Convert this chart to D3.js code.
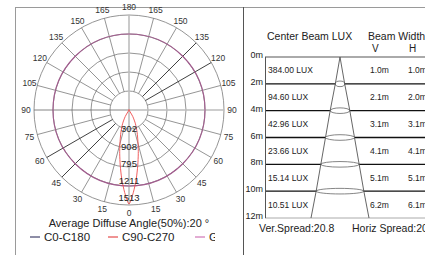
<!DOCTYPE html>
<html>
<head>
<meta charset="utf-8">
<script src="https://cdn.jsdelivr.net/npm/d3@7"></script>
<style>
  html, body { margin: 0; padding: 0; background: #fff; }
  svg { display: block; font-family: "Liberation Sans", Arial, sans-serif; }
</style>
</head>
<body>
<div id="chart"></div>
<script>
// polar grid: angle labels (degrees from the bottom) and ring values
var angleTicks = [0, 15, 30, 45, 60, 75, 90, 105, 120, 135, 150, 165, 180];
var ringValues = [302, 908, 795, 1211, 1513];

// C90-C270 curve, relative intensity (% of outer ring) by angle
var c90Angles = [-40, -30, -25, -20, -15, -12, -9, -6, -3, 0, 3, 6, 9, 12, 15, 20, 25, 30, 40];
var c90Values = [0, 8, 16, 25, 37, 47, 59, 73, 87, 99, 87, 73, 59, 47, 37, 25, 16, 8, 0];

// G0 curve (constant ring), % of outer ring
var g0Value = 80;

var legendNames = ["C0-C180", "C90-C270", "G0"];
var legendColors = ["#1c1c4e", "#e02828", "#c65aa8"];

// beam table
var depthTicks = [0, 2, 4, 6, 8, 10, 12];
var luxValues = [384.00, 94.60, 42.96, 23.66, 15.14, 10.51];
var widthV = [1.0, 2.1, 3.1, 4.1, 5.1, 6.2];
var widthH = [1.0, 2.0, 3.1, 4.1, 5.1, 6.1];
var verSpread = "20.8";
var horSpread = "20.8";

var W = 425, H = 255;

var svg = d3.select("#chart").append("svg")
    .attr("width", W)
    .attr("height", H);

svg.append("rect").attr("width", W).attr("height", H).attr("fill", "#fff");

// legend is clipped to the left panel
svg.append("clipPath").attr("id", "leftClip")
  .append("rect").attr("x", 0).attr("y", 0).attr("width", 215).attr("height", H);

// panel frame
svg.append("line").attr("x1", 15).attr("y1", 7.5).attr("x2", W).attr("y2", 7.5)
    .attr("stroke", "#9a9a9a").attr("stroke-width", 1);
svg.append("line").attr("x1", 15.5).attr("y1", 7).attr("x2", 15.5).attr("y2", H)
    .attr("stroke", "#9a9a9a").attr("stroke-width", 1);
svg.append("line").attr("x1", 243.5).attr("y1", 7).attr("x2", 243.5).attr("y2", H)
    .attr("stroke", "#555").attr("stroke-width", 1);

///////////////////////////////////////////////
// polar diagram
///////////////////////////////////////////////
var cx = 129, cy = 110;
var ring = d3.scaleLinear().domain([0, ringValues.length]).range([0, 95]);
var pct = d3.scaleLinear().domain([0, 100]).range([0, ring(ringValues.length)]);
var ringLabelY = d3.scaleLinear().domain([1, ringValues.length]).range([cy + 19, cy + 88]);
var rad = function(a) { return a * Math.PI / 180; };
var R0 = ring(1), R1 = ring(ringValues.length);

var polar = svg.append("g");

// circles
polar.selectAll(".ring")
    .data(ringValues)
  .enter().append("circle")
    .attr("class", "ring")
    .attr("cx", cx).attr("cy", cy)
    .attr("r", function(d, i) { return ring(i + 1); })
    .attr("fill", "none")
    .attr("stroke", "#7a7a7a")
    .attr("stroke-width", 0.8);

// spokes (both sides), some drawn darker
var darkRight = [120, 135], darkLeft = [45, 60];
var spokes = [];
angleTicks.forEach(function(a) {
  if (a === 0 || a === 90 || a === 180) return;
  spokes.push({ a: a, s: 1, dark: darkRight.indexOf(a) >= 0 });
  spokes.push({ a: a, s: -1, dark: darkLeft.indexOf(a) >= 0 });
});

polar.selectAll(".spoke")
    .data(spokes)
  .enter().append("line")
    .attr("class", "spoke")
    .attr("x1", function(d) { return cx + d.s * R0 * Math.sin(rad(d.a)); })
    .attr("y1", function(d) { return cy + R0 * Math.cos(rad(d.a)); })
    .attr("x2", function(d) { return cx + d.s * R1 * Math.sin(rad(d.a)); })
    .attr("y2", function(d) { return cy + R1 * Math.cos(rad(d.a)); })
    .attr("stroke", function(d) { return d.dark ? "#2a2a2a" : "#7a7a7a"; })
    .attr("stroke-width", function(d) { return d.dark ? 0.9 : 0.8; });

// horizontal and vertical axes
polar.append("line").attr("x1", cx - R1).attr("y1", cy).attr("x2", cx).attr("y2", cy)
    .attr("stroke", "#666").attr("stroke-width", 0.8);
polar.append("line").attr("x1", cx).attr("y1", cy).attr("x2", cx + R1).attr("y2", cy)
    .attr("stroke", "#bdbdbd").attr("stroke-width", 1.6);
polar.append("line").attr("x1", cx).attr("y1", cy - R1).attr("x2", cx).attr("y2", cy + R1)
    .attr("stroke", "#bdbdbd").attr("stroke-width", 1.6);

// G0 ring
polar.append("circle")
    .attr("cx", cx).attr("cy", cy)
    .attr("r", pct(g0Value))
    .attr("fill", "none")
    .attr("stroke", "#a25c8e")
    .attr("stroke-width", 1.1);

// C90-C270 curve
var c90 = c90Angles.map(function(a, i) { return { a: a, v: c90Values[i] }; });
var radial = d3.lineRadial()
    .angle(function(d) { return Math.PI - rad(d.a); })
    .radius(function(d) { return pct(d.v); })
    .curve(d3.curveCardinalClosed.tension(0.3));

polar.append("path")
    .datum(c90)
    .attr("transform", "translate(" + cx + "," + cy + ")")
    .attr("d", radial)
    .attr("fill", "none")
    .attr("stroke", "#ee4c4c")
    .attr("stroke-width", 0.9);

// ring value labels along the 0 line
polar.selectAll(".ringLabel")
    .data(ringValues)
  .enter().append("text")
    .attr("class", "ringLabel")
    .attr("x", cx)
    .attr("y", function(d, i) { return ringLabelY(i + 1); })
    .attr("dy", "0.35em")
    .attr("text-anchor", "middle")
    .attr("font-size", "9.5px")
    .attr("fill", "#222")
    .text(function(d) { return d; });

// angle labels
var angleLabels = [];
angleTicks.forEach(function(a) {
  angleLabels.push({ a: a, s: 1 });
  if (a !== 0 && a !== 180) angleLabels.push({ a: a, s: -1 });
});
var RL = 103;
polar.selectAll(".angleLabel")
    .data(angleLabels)
  .enter().append("text")
    .attr("class", "angleLabel")
    .attr("x", function(d) { return cx + d.s * RL * Math.sin(rad(d.a)); })
    .attr("y", function(d) { return cy + RL * Math.cos(rad(d.a)); })
    .attr("dy", "0.35em")
    .attr("text-anchor", "middle")
    .attr("font-size", "8.5px")
    .attr("fill", "#333")
    .text(function(d) { return d.a; });

// caption
svg.append("text")
    .attr("x", cx).attr("y", 227)
    .attr("text-anchor", "middle")
    .attr("font-size", "11px")
    .attr("fill", "#222")
    .text("Average Diffuse Angle(50%):20 °");

// legend
var legendX = [30, 108, 195];
var legend = svg.append("g")
    .attr("clip-path", "url(#leftClip)")
  .selectAll(".legend")
    .data(legendNames)
  .enter().append("g")
    .attr("class", "legend")
    .attr("transform", function(d, i) { return "translate(" + legendX[i] + ",237)"; });
legend.append("line")
    .attr("x1", 0).attr("x2", 10).attr("y1", 0).attr("y2", 0)
    .attr("stroke", function(d, i) { return legendColors[i]; })
    .attr("stroke-width", 1);
legend.append("text")
    .attr("x", 14).attr("y", 0).attr("dy", "0.36em")
    .attr("font-size", "11.5px")
    .attr("fill", "#222")
    .text(function(d) { return d; });

///////////////////////////////////////////////
// beam table
///////////////////////////////////////////////
var y = d3.scaleLinear().domain([0, 12]).range([57, 218]);
var half = d3.scaleLinear().domain([0, 1]).range([0, 9.35]);
var tx0 = 265, coneX = 340;

var table = svg.append("g");

table.append("text").attr("x", 267).attr("y", 40)
    .attr("font-size", "10.5px").attr("fill", "#222").text("Center Beam LUX");
table.append("text").attr("x", 368).attr("y", 40)
    .attr("font-size", "10.5px").attr("fill", "#222").text("Beam Width");
table.append("text").attr("x", 372).attr("y", 51.5)
    .attr("font-size", "10px").attr("fill", "#222").text("V");
table.append("text").attr("x", 409).attr("y", 51.5)
    .attr("font-size", "10px").attr("fill", "#222").text("H");

// depth lines
table.selectAll(".depthLine")
    .data(depthTicks)
  .enter().append("line")
    .attr("class", "depthLine")
    .attr("x1", tx0).attr("x2", W)
    .attr("y1", function(d) { return y(d); })
    .attr("y2", function(d) { return y(d); })
    .attr("stroke", function(d, i) { return (i === 0 || i === depthTicks.length - 1) ? "#aaa" : "#111"; })
    .attr("stroke-width", function(d, i) { return i === 0 ? 2 : (i === depthTicks.length - 1 ? 1 : 1.3); });

table.append("line")
    .attr("x1", tx0 + 0.5).attr("x2", tx0 + 0.5)
    .attr("y1", y(0)).attr("y2", y(12))
    .attr("stroke", "#555").attr("stroke-width", 1);

table.selectAll(".depthLabel")
    .data(depthTicks)
  .enter().append("text")
    .attr("class", "depthLabel")
    .attr("x", 263)
    .attr("y", function(d) { return y(d) + 1; })
    .attr("text-anchor", "end")
    .attr("font-size", "9px")
    .attr("fill", "#222")
    .text(function(d) { return d + "m"; });

// cone
var conePts = [{ m: 0, w: 0 }].concat(widthV.map(function(w, i) { return { m: depthTicks[i + 1], w: w }; }));
var leftEdge = d3.line()
    .x(function(d) { return coneX - half(d.w / 2); })
    .y(function(d) { return y(d.m); });
var rightEdge = d3.line()
    .x(function(d) { return coneX + half(d.w / 2); })
    .y(function(d) { return y(d.m); });

table.selectAll(".ellipse")
    .data(conePts.slice(1, conePts.length - 1))
  .enter().append("ellipse")
    .attr("class", "ellipse")
    .attr("cx", coneX)
    .attr("cy", function(d) { return y(d.m); })
    .attr("rx", function(d) { return half(d.w / 2); })
    .attr("ry", 2.8)
    .attr("fill", "#fff")
    .attr("stroke", "#666")
    .attr("stroke-width", 0.8);

table.append("path").attr("d", leftEdge(conePts))
    .attr("fill", "none").attr("stroke", "#555").attr("stroke-width", 0.9);
table.append("path").attr("d", rightEdge(conePts))
    .attr("fill", "none").attr("stroke", "#555").attr("stroke-width", 0.9);

// row values
var rows = luxValues.map(function(v, i) {
  return { lux: v, v: widthV[i], h: widthH[i], top: depthTicks[i], bottom: depthTicks[i + 1] };
});
var rowY = function(d) { return (y(d.top) + y(d.bottom)) / 2 + 3; };

table.selectAll(".luxLabel")
    .data(rows)
  .enter().append("text")
    .attr("class", "luxLabel")
    .attr("x", 268).attr("y", rowY)
    .attr("font-size", "8.5px").attr("fill", "#222")
    .text(function(d) { return d.lux.toFixed(2) + " LUX"; });

table.selectAll(".vLabel")
    .data(rows)
  .enter().append("text")
    .attr("class", "vLabel")
    .attr("x", 370).attr("y", rowY)
    .attr("font-size", "8.5px").attr("fill", "#222")
    .text(function(d) { return d.v.toFixed(1) + "m"; });

table.selectAll(".hLabel")
    .data(rows)
  .enter().append("text")
    .attr("class", "hLabel")
    .attr("x", 408).attr("y", rowY)
    .attr("font-size", "8.5px").attr("fill", "#222")
    .text(function(d) { return d.h.toFixed(1) + "m"; });

table.append("text").attr("x", 259).attr("y", 232)
    .attr("font-size", "10.5px").attr("fill", "#222").text("Ver.Spread:" + verSpread);
table.append("text").attr("x", 352).attr("y", 232)
    .attr("font-size", "10.5px").attr("fill", "#222").text("Horiz Spread:" + horSpread);
</script>
</body>
</html>
